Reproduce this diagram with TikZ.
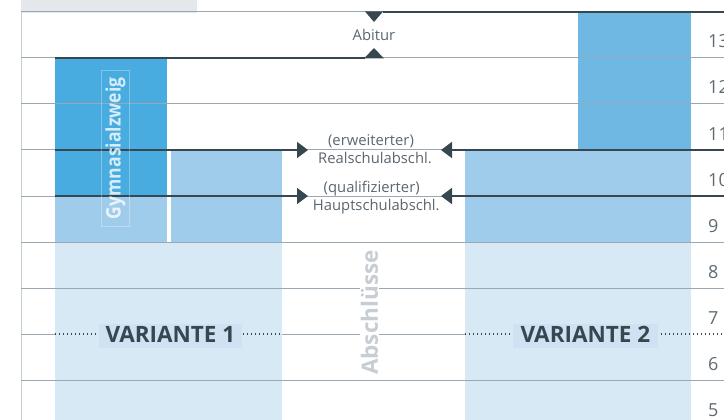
\documentclass[tikz,border=0pt]{standalone}
\usepackage{fontspec}
\setmainfont{Open Sans}
\usetikzlibrary{arrows.meta}
\definecolor{gridc}{HTML}{9AA8B4}
\definecolor{darkc}{HTML}{37474F}
\definecolor{gymc}{HTML}{48ACE0}
\definecolor{topc}{HTML}{70B8E4}
\definecolor{midc}{HTML}{A0CCEC}
\definecolor{lightc}{HTML}{D8E9F6}
\definecolor{varbox}{HTML}{CFE2F3}
\definecolor{txtc}{HTML}{5A6670}
\definecolor{numc}{HTML}{5F6B73}
\definecolor{absc}{HTML}{C8CDD3}
\definecolor{leftc}{HTML}{C9CED3}
\definecolor{topbar}{HTML}{E4E8EC}
\tikzset{
  gridline/.style={gridc, line width=1pt},
  darkline/.style={darkc, line width=1.6pt},
  dotline/.style={darkc, line width=1.3pt, dash pattern=on 1.3pt off 2.7pt},
  lbl/.style={inner sep=0pt, text=txtc, font=\fontsize{14.8}{16}\selectfont, anchor=base},
  num/.style={inner sep=0pt, text=numc, font=\fontsize{18}{20}\selectfont, anchor=base west},
  varnode/.style={fill=varbox, text=darkc, font=\bfseries\fontsize{22.5}{24}\selectfont,
    inner sep=0pt, text height=18.5pt, text depth=5.2pt},
  tip/.style={-{Triangle[length=11pt,width=16pt]}},
}
\begin{document}
\begin{tikzpicture}[x=1pt,y=-1pt]
\useasboundingbox (0,0) rectangle (724,420);
% background fills
\fill[topbar] (21,0) rectangle (197,13);
\fill[lightc] (55,242) rectangle (282,420);
\fill[midc] (55,196) rectangle (167,242);
\fill[midc] (170.7,150) rectangle (282,242);
\fill[gymc] (55,58) rectangle (167,196);
\fill[lightc] (465,242) rectangle (690.7,420);
\fill[midc] (465,150) rectangle (690.7,242);
\fill[topc] (577.7,12) rectangle (690.7,150);
% left vertical rule
\draw[leftc, line width=1.5pt] (21.7,12) -- (21.7,420);
% grid
\foreach \y in {12,58,104,150,196,242,288,380} \draw[gridline] (21,\y) -- (724,\y);
\draw[gridline] (21,334) -- (55,334);
\draw[gridline] (282,334) -- (465,334);
% Abitur markers
\coordinate (ab1) at (383,12);
\coordinate (ab2) at (724,12);
\coordinate (ab3) at (55,58);
\coordinate (ab4) at (365,58);
\draw[darkline] (ab1) -- (ab2);
\draw[darkline] (ab3) -- (ab4);
\fill[darkc] (365,11.5) -- (383,11.5) -- (374,22) -- cycle;
\fill[darkc] (364,58.5) -- (384,58.5) -- (374,48) -- cycle;
\node[lbl] (abitur) at (374,40.5) {Abitur};
% arrows
\coordinate (l1s) at (55,150);
\coordinate (l1e) at (308,150);
\coordinate (r1s) at (724,150);
\coordinate (r1e) at (441,150);
\coordinate (l2s) at (55,196);
\coordinate (l2e) at (308,196);
\coordinate (r2s) at (724,196);
\coordinate (r2e) at (441,196);
\draw[darkline, tip] (l1s) -- (l1e);
\draw[darkline, tip] (r1s) -- (r1e);
\draw[darkline, tip] (l2s) -- (l2e);
\draw[darkline, tip] (r2s) -- (r2e);
\node[lbl] (erw) at (371,146) {(erweiterter)};
\node[lbl] (real) at (375,164) {Realschulabschl.};
\node[lbl] (qual) at (371.7,193) {(qualifizierter)};
\node[lbl] (haupt) at (376.3,211) {Hauptschulabschl.};
% Abschlüsse
\node[fill=white, inner sep=1pt, rotate=90, text=absc, font=\bfseries\fontsize{22.5}{24}\selectfont] (absch) at (369.5,312.5) {Abschlüsse};
% Gymnasialzweig
\node[rotate=90, draw=white, draw opacity=0.3, line width=0.8pt, text=white, text opacity=0.78,
  minimum width=156.7pt, minimum height=27.6pt, inner sep=0pt,
  font=\bfseries\fontsize{20}{22}\selectfont] (gym) at (115.5,148.3) {\scalebox{0.88}[1]{Gymnasialzweig}};
% Variante lines and labels
\coordinate (d1s) at (55,334);
\coordinate (d1e) at (282,334);
\coordinate (d2s) at (465,334);
\coordinate (d2e) at (724,334);
\draw[dotline] (d1s) -- (d1e);
\draw[dotline] (d2s) -- (d2e);
\node[varnode, minimum width=142.7pt] (v1) at (170.4,335.85) {VARIANTE 1};
\node[varnode, minimum width=144.7pt] (v2) at (585.35,335.85) {VARIANTE 2};
% year numbers
\node[num] (n13) at (708,48) {13};
\node[num] (n12) at (708,94) {12};
\node[num] (n11) at (708,140) {11};
\node[num] (n10) at (708,186) {10};
\node[num] (n9) at (708,232) {9};
\node[num] (n8) at (708,278) {8};
\node[num] (n7) at (708,324) {7};
\node[num] (n6) at (708,370) {6};
\node[num] (n5) at (708,416) {5};
\end{tikzpicture}
\end{document}
